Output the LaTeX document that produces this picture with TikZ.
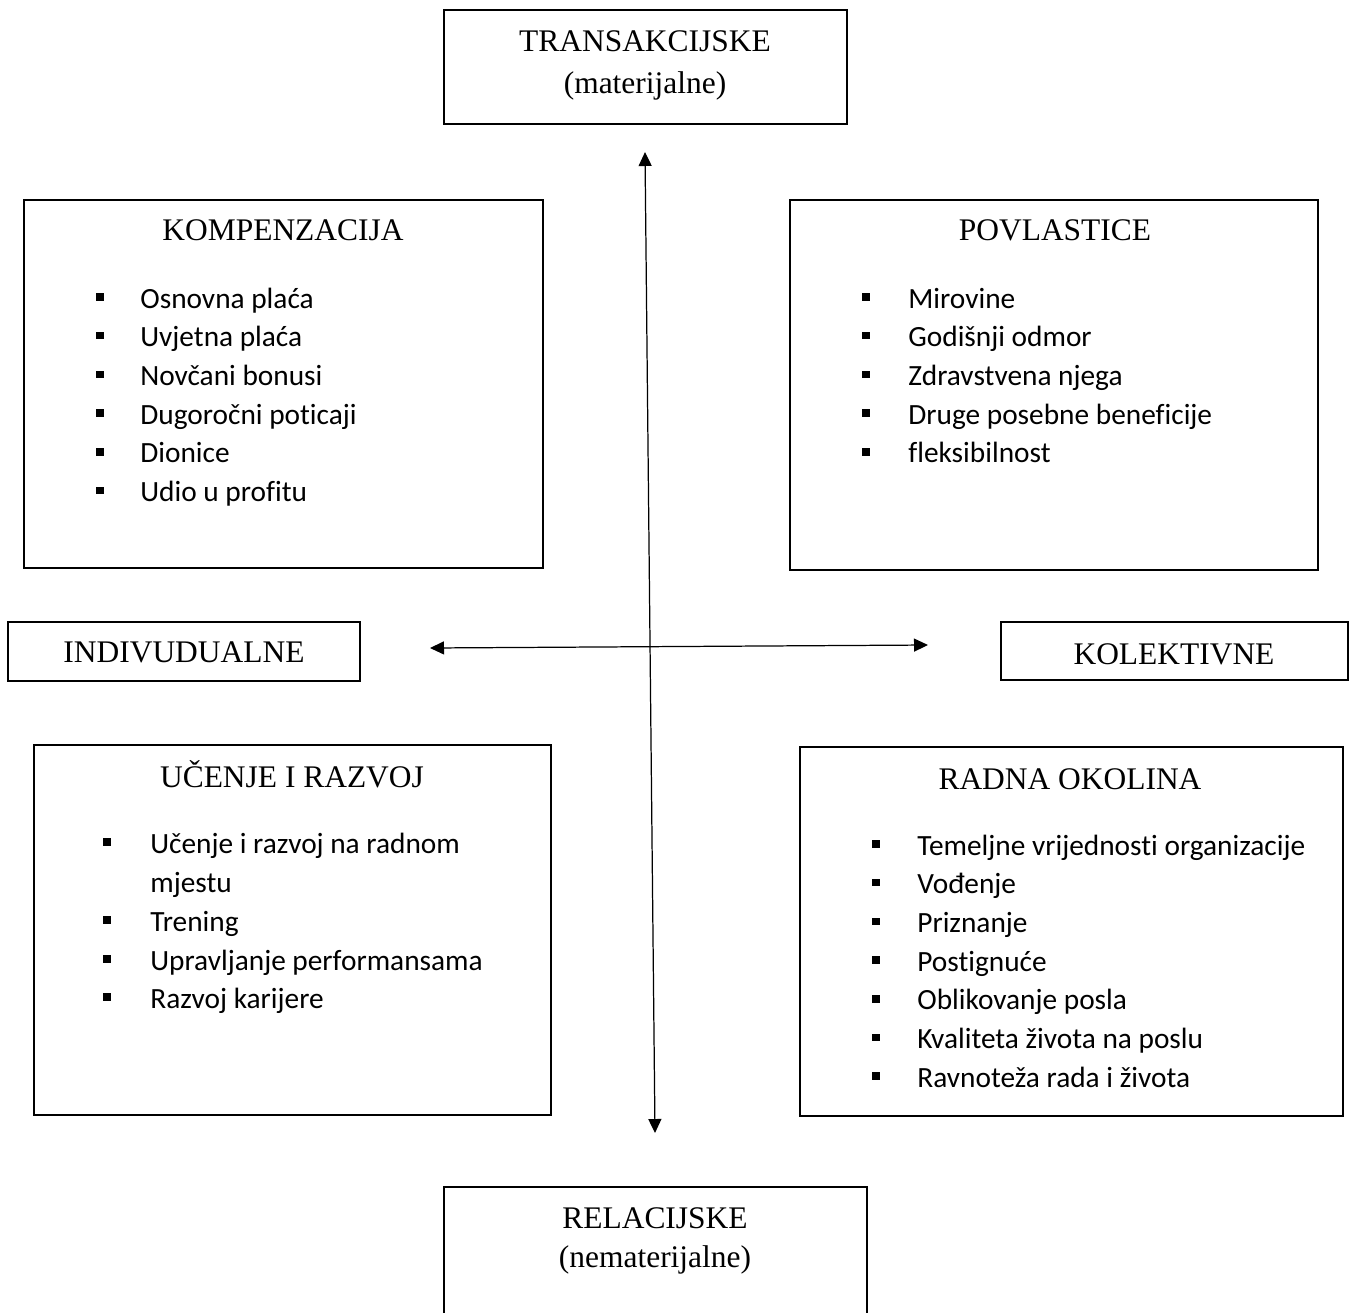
\documentclass[tikz,border=0pt]{standalone}
\usepackage{fontspec}
\setmainfont{Liberation Serif}
\newfontfamily\listfont[Ligatures=NoCommon]{Carlito}
\usetikzlibrary{arrows.meta,fit}

\begin{document}
\begin{tikzpicture}[x=0.02cm, y=-0.02cm,
    box/.style = {draw, line width=1pt, inner sep=0pt},
    head/.style = {anchor=base, inner sep=0pt, font=\fontsize{17.9}{21}\selectfont},
    item/.style = {anchor=base west, inner sep=0pt, font=\listfont\fontsize{16.7}{20}\selectfont},
    dot/.style = {fill, minimum size=0.15cm, inner sep=0pt},
    axis/.style = {line width=0.7pt,
      {Triangle[length=0.28cm,width=0.26cm]}-{Triangle[length=0.28cm,width=0.26cm]}}]
  \useasboundingbox (0,0) rectangle (1354,1312);
  \clip (0,0) rectangle (1354,1312);

  % boxes
  \node[box, fit={(444,10) (847,124)}] (trans) {};
  \node[box, fit={(24,200) (543,568)}] (komp) {};
  \node[box, fit={(790,200) (1318,570)}] (povl) {};
  \node[box, fit={(8,622) (360,681)}] (indiv) {};
  \node[box, fit={(1001,622) (1348,680)}] (kolek) {};
  \node[box, fit={(34,745) (551,1115)}] (ucenje) {};
  \node[box, fit={(800,747) (1343,1116)}] (radna) {};
  \node[box, fit={(444,1187) (867,1340)}] (relac) {};

  % headings
  \node[head] (transT) at (645,51) {TRANSAKCIJSKE};
  \node[head] (transS) at (645,93) {(materijalne)};
  \node[head] (kompT) at (283,240) {KOMPENZACIJA};
  \node[head] (povlT) at (1055,240) {POVLASTICE};
  \node[head] (indivT) at (184,662) {INDIVUDUALNE};
  \node[head] (kolekT) at (1174,664) {KOLEKTIVNE};
  \node[head] (ucenjeT) at (292,787) {UČENJE I RAZVOJ};
  \node[head] (radnaT) at (1070,789) {RADNA OKOLINA};
  \node[head] (relacT) at (655,1228) {RELACIJSKE};
  \node[head] (relacS) at (655,1267) {(nematerijalne)};

  % lists
  \foreach \txt [count=\i] in {Osnovna plaća, Uvjetna plaća, Novčani bonusi,
      Dugoročni poticaji, Dionice, Udio u profitu} {
    \node[item] (komp\i) at (140,{308+38.7*(\i-1)}) {\txt};
    \node[dot] (kompb\i) at (100,{297+38.7*(\i-1)}) {};
  }
  \foreach \txt [count=\i] in {Mirovine, Godišnji odmor, Zdravstvena njega,
      Druge posebne beneficije, fleksibilnost} {
    \node[item] (povl\i) at (908,{308+38.7*(\i-1)}) {\txt};
    \node[dot] (povlb\i) at (866,{297+38.7*(\i-1)}) {};
  }
  \foreach \y/\txt [count=\i] in {853/Učenje i razvoj na radnom, 931/Trening,
      970/Upravljanje performansama, 1008/Razvoj karijere} {
    \node[item] (ucenje\i) at (150,\y) {\txt};
    \node[dot] (ucenjeb\i) at (107,\y-11) {};
  }
  \node[item] (ucenje1b) at (150,892) {mjestu};
  \foreach \txt [count=\i] in {Temeljne vrijednosti organizacije, Vođenje, Priznanje,
      Postignuće, Oblikovanje posla, Kvaliteta života na poslu, Ravnoteža rada i života} {
    \node[item] (radna\i) at (917,{855+38.7*(\i-1)}) {\txt};
    \node[dot] (radnab\i) at (876,{844+38.7*(\i-1)}) {};
  }

  % axes
  \coordinate (axT) at (645,152);
  \coordinate (axB) at (655,1133);
  \coordinate (axL) at (430,648);
  \coordinate (axR) at (928,645);
  \draw[axis] (axT) -- (axB);
  \draw[axis] (axL) -- (axR);
\end{tikzpicture}
\end{document}
